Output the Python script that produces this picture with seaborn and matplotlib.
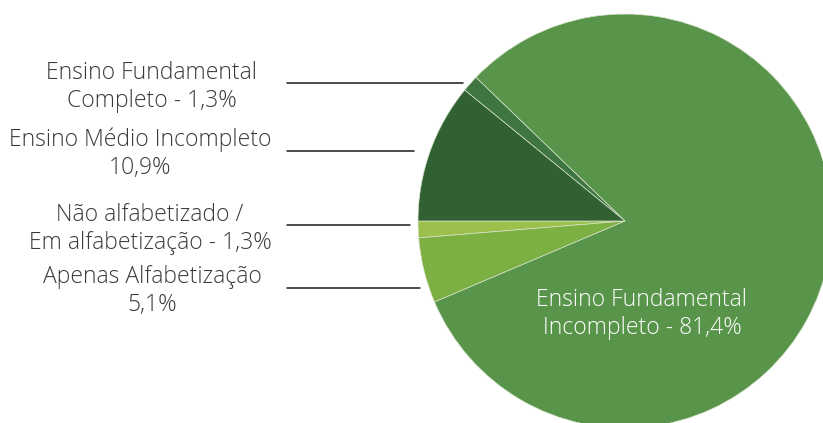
import matplotlib
matplotlib.use("Agg")
import matplotlib.pyplot as plt
import seaborn as sns

# Data (counterclockwise from the left horizontal)
labels = [
    "Não alfabetizado /\nEm alfabetização - 1,3%",
    "Apenas Alfabetização\n5,1%",
    "Ensino Fundamental\nIncompleto - 81,4%",
    "Ensino Fundamental\nCompleto - 1,3%",
    "Ensino Médio Incompleto\n10,9%",
]
values = [1.3, 5.1, 81.4, 1.3, 10.9]
colors = ["#9bc04b", "#7db043", "#58944a", "#3e7541", "#316133"]

sns.set_theme(style="white")
plt.rcParams["font.family"] = ["Open Sans", "DejaVu Sans"]

W, H = 823, 423
fig = plt.figure(figsize=(W / 100, H / 100), dpi=100)
ax = fig.add_axes([0, 0, 1, 1])

cx, cy, r = 625, H - 221, 207
ax.pie(values, colors=colors, startangle=180, counterclock=True,
       center=(cx, cy), radius=r,
       wedgeprops=dict(edgecolor="#d8e4cc", linewidth=0.5))
ax.set_xlim(0, W)
ax.set_ylim(0, H)
ax.set_aspect("equal")
ax.axis("off")

# outside labels with leader lines: (label index, text x, text y, line y, line end x)
outside = [
    (3, 152, 87, 83, 463),
    (4, 140, 154, 151, 414),
    (0, 150, 229, 225, 410),
    (1, 152, 291, 288, 420),
]
for i, tx, ty, ly, lx in outside:
    ax.text(tx, H - ty, labels[i], ha="center", va="center", fontsize=16.5,
            color="#3a3a3a", fontweight="light", linespacing=1.2)
    ax.plot([287, lx], [H - ly, H - ly], color="#1a1a1a", lw=1.1)

ax.text(642, H - 314, labels[2], ha="center", va="center", fontsize=16.5,
        color="white", fontweight="light", linespacing=1.2)

fig.savefig("out.png", dpi=100)
